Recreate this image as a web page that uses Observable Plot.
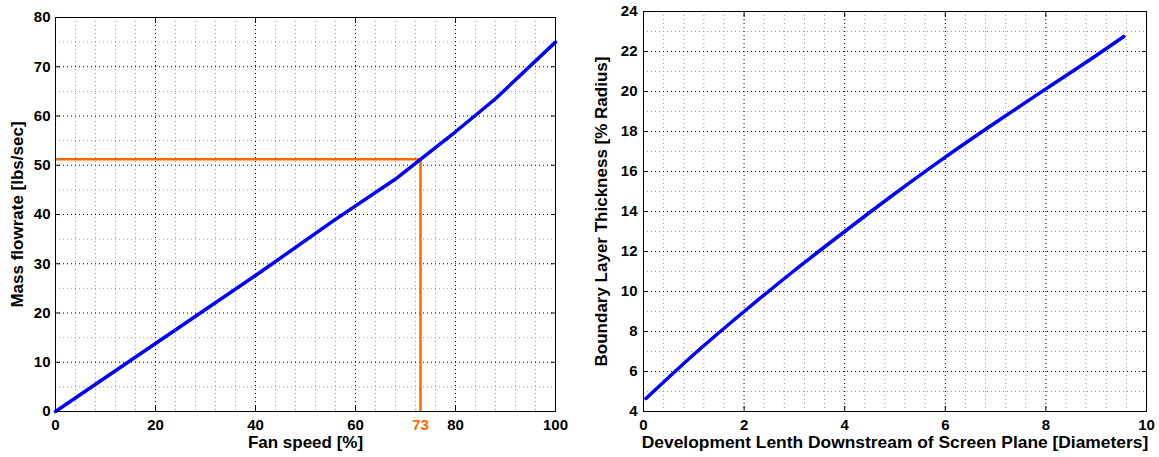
<!DOCTYPE html>
<html>
<head>
<meta charset="utf-8">
<script src="https://cdn.jsdelivr.net/npm/d3@7"></script>
<script src="https://cdn.jsdelivr.net/npm/@observablehq/plot@0.6"></script>
<style>
  html, body { margin: 0; padding: 0; background: #fff; }
  #wrap { position: relative; width: 1159px; height: 457px; overflow: hidden; }
  #left, #right { position: absolute; top: 0; }
  #left { left: 0; }
  #right { left: 580px; }
</style>
</head>
<body>
<div id="wrap"><div id="left"></div><div id="right"></div></div>
<script>
// ---- Left panel data ----
const fanSpeed = [0, 20, 40, 55.7, 68, 73, 80, 88, 100];
const massFlow = [0, 13.8, 27.6, 38.8, 47.2, 51.2, 56.8, 63.5, 75];
const opFan = 73;
const opFlow = 51.2;
const leftXTicks = [0, 20, 40, 60, 80, 100];
const leftYTicks = [0, 10, 20, 30, 40, 50, 60, 70, 80];
const leftXLabel = "Fan speed [%]";
const leftYLabel = "Mass flowrate [lbs/sec]";

// ---- Right panel data ----
const devLength = [0.05, 1, 2, 3, 4, 5, 6, 7, 8, 9, 9.55];
const blThick = [4.65, 6.85, 9.0, 11.05, 13.0, 14.9, 16.72, 18.45, 20.13, 21.8, 22.75];
const rightXTicks = [0, 2, 4, 6, 8, 10];
const rightYTicks = [4, 6, 8, 10, 12, 14, 16, 18, 20, 22, 24];
const rightXLabel = "Development Lenth Downstream of Screen Plane [Diameters]";
const rightYLabel = "Boundary Layer Thickness [% Radius]";

const BLUE = "#0000ff";
const ORANGE = "#ff6600";
const FONT = "'Liberation Sans', Arial, Helvetica, sans-serif";

function minorTicks(major, n) {
  const out = [];
  for (let i = 0; i < major.length - 1; i++) {
    const step = (major[i + 1] - major[i]) / n;
    for (let k = 1; k < n; k++) out.push(major[i] + k * step);
  }
  return out;
}

function panel(o) {
  const minorX = minorTicks(o.xTicks, o.xMinor);
  const minorY = minorTicks(o.yTicks, o.yMinor);
  const pts = o.xs.map((x, i) => ({x, y: o.ys[i]}));
  const grid = {strokeDasharray: "1,3", strokeOpacity: 1};
  return Plot.plot({
    width: o.width, height: 457,
    marginLeft: o.ml, marginRight: o.mr, marginTop: o.mt, marginBottom: 46,
    x: {domain: [o.xTicks[0], o.xTicks[o.xTicks.length - 1]]},
    y: {domain: [o.yTicks[0], o.yTicks[o.yTicks.length - 1]]},
    style: {fontFamily: FONT, fontSize: "15px", fontWeight: "bold", color: "black", background: "white"},
    marks: [
      Plot.gridX(minorX, {...grid, stroke: "#999"}),
      Plot.gridY(minorY, {...grid, stroke: "#999"}),
      Plot.gridX(o.xTicks, {...grid, stroke: "black"}),
      Plot.gridY(o.yTicks, {...grid, stroke: "black"}),
      ...(o.extra || []),
      Plot.line(pts, {x: "x", y: "y", stroke: BLUE, strokeWidth: 3.5, curve: o.curve || "linear"}),
      Plot.frame({stroke: "black", strokeWidth: 1}),
      Plot.axisX(o.xTicks, {anchor: "bottom", tickSize: -5, tickFormat: () => "", label: null}),
      Plot.axisX(o.xTicks, {anchor: "top", tickSize: -5, tickFormat: () => "", label: null}),
      Plot.axisY(o.yTicks, {anchor: "left", tickSize: -5, tickFormat: () => "", label: null}),
      Plot.axisY(o.yTicks, {anchor: "right", tickSize: -5, tickFormat: () => "", label: null}),
      Plot.axisX(o.xTicks, {anchor: "bottom", tickSize: 0, tickPadding: 8, label: null, fill: "black"}),
      ...(o.extraAxes || []),
      Plot.axisY(o.yTicks, {anchor: "left", tickSize: 0, tickPadding: o.yPad, label: null, fill: "black"}),
      Plot.text([o.xLabel], {frameAnchor: "bottom", dy: 31, textAnchor: "middle", lineAnchor: "middle", fontSize: o.xLabelSize, fontWeight: "bold", fill: "black"}),
      Plot.text([o.yLabel], {frameAnchor: "left", dx: o.yLabelDx, rotate: -90, textAnchor: "middle", lineAnchor: "middle", fontSize: 17, fontWeight: "bold", fill: "black"})
    ]
  });
}

const left = panel({
  width: 580, ml: 55, mr: 25, mt: 17,
  xs: fanSpeed, ys: massFlow,
  xTicks: leftXTicks, yTicks: leftYTicks, xMinor: 5, yMinor: 2,
  xLabel: leftXLabel, yLabel: leftYLabel, yLabelDx: -38, yPad: 5, xLabelSize: 17,
  extra: [
    Plot.ruleY([opFlow], {x1: leftXTicks[0], x2: opFan, stroke: ORANGE, strokeWidth: 2.5}),
    Plot.ruleX([opFan], {y1: leftYTicks[0], y2: opFlow, stroke: ORANGE, strokeWidth: 2.5})
  ],
  extraAxes: [
    Plot.axisX([opFan], {anchor: "bottom", tickSize: 0, tickPadding: 8, label: null, fill: ORANGE})
  ]
});
document.getElementById("left").appendChild(left);

const right = panel({
  width: 579, ml: 63, mr: 13, mt: 11,
  xs: devLength, ys: blThick, curve: "monotone-x",
  xTicks: rightXTicks, yTicks: rightYTicks, xMinor: 5, yMinor: 2,
  xLabel: rightXLabel, yLabel: rightYLabel, yLabelDx: -42, yPad: 6, xLabelSize: 17.4
});
document.getElementById("right").appendChild(right);
</script>
</body>
</html>
